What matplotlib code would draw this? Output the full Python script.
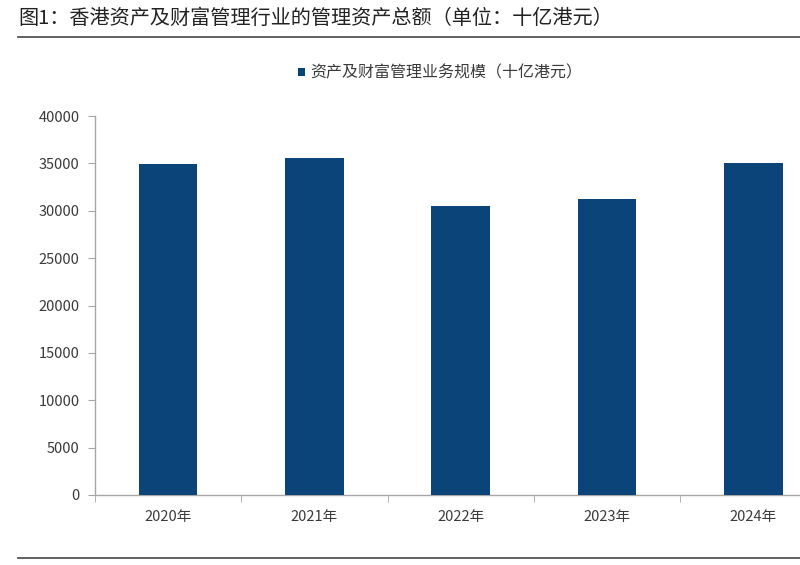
import matplotlib
matplotlib.use("Agg")
import matplotlib.pyplot as plt
from matplotlib.lines import Line2D
import numpy as np

plt.rcParams['font.family'] = ['Noto Sans CJK SC', 'DejaVu Sans']

# data (十亿港元)
years = ['2020年', '2021年', '2022年', '2023年', '2024年']
aum = [34927, 35550, 30537, 31193, 35085]
yticks = [0, 5000, 10000, 15000, 20000, 25000, 30000, 35000, 40000]

title = '图1：香港资产及财富管理行业的管理资产总额（单位：十亿港元）'
series_name = '资产及财富管理业务规模（十亿港元）'

bar_color = '#0a4478'
axis_color = '#a6a6a6'
text_color = '#3a3a3a'

fig = plt.figure(figsize=(8, 5.65), dpi=100)
# the right edge of the plot runs a bit past the image, like the reference crop
ax = fig.add_axes([95 / 800, 70 / 565, 731.5 / 800, 379 / 565])

x = np.arange(len(years))
bars = ax.bar(x, aum, width=0.4, color=bar_color, label=series_name, zorder=3)

ax.set_xlim(-0.5, len(years) - 0.5)
ax.set_ylim(0, 40000)
ax.set_yticks(yticks)
ax.set_xticks(x)
ax.set_xticklabels(years)
ax.set_xticks(np.arange(-0.5, len(years), 1.0), minor=True)

for s in ['top', 'right']:
    ax.spines[s].set_visible(False)
for s in ['left', 'bottom']:
    ax.spines[s].set_color(axis_color)
    ax.spines[s].set_linewidth(1.0)

ax.tick_params(axis='x', which='major', length=0, pad=11, labelsize=10.5, labelcolor=text_color)
ax.tick_params(axis='x', which='minor', length=5, color=axis_color, direction='out')
ax.tick_params(axis='y', length=5, color=axis_color, direction='out', pad=6,
               labelsize=10.5, labelcolor=text_color)

fig.legend(handles=[bars], labels=[series_name], loc='center', bbox_to_anchor=(0.55, 1 - 73 / 565),
           frameon=False, fontsize=11.5, handlelength=0.45, handleheight=0.45, handletextpad=0.3,
           labelcolor=text_color)

fig.text(18 / 800, 1 - 18 / 565, title, fontsize=14.5, color='#222222', va='center', ha='left')
fig.add_artist(Line2D([18 / 800, 1.0], [1 - 37 / 565, 1 - 37 / 565], color='#555555', linewidth=1.3))
fig.add_artist(Line2D([18 / 800, 1.0], [1 - 558 / 565, 1 - 558 / 565], color='#555555', linewidth=1.3))

fig.savefig('out.png', dpi=100)
